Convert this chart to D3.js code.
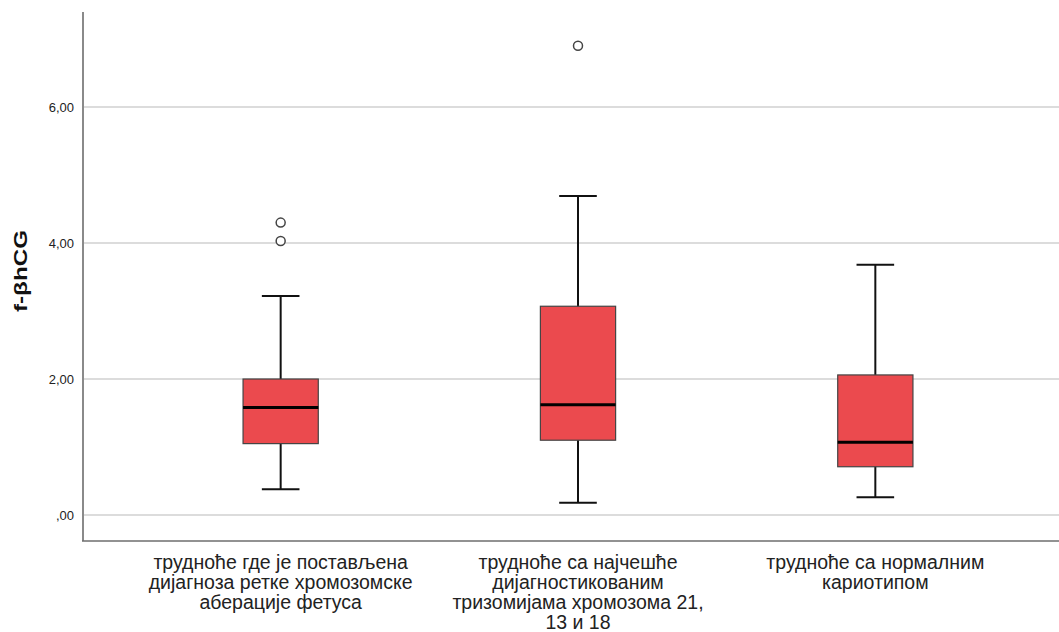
<!DOCTYPE html>
<html>
<head>
<meta charset="utf-8">
<script src="https://cdn.jsdelivr.net/npm/d3@7"></script>
<style>
  body { margin: 0; background: #fff; }
  svg { display: block; font-family: "Liberation Sans", Arial, sans-serif; }
</style>
</head>
<body>
<svg id="chart" width="1059" height="632"></svg>
<script>
// Groups and their box plot statistics
var categories = [
  "трудноће где је постављена дијагноза ретке хромозомске аберације фетуса",
  "трудноће са најчешће дијагностикованим тризомијама хромозома 21, 13 и 18",
  "трудноће са нормалним кариотипом"
];
var labelLines = [
  ["трудноће где је постављена", "дијагноза ретке хромозомске", "аберације фетуса"],
  ["трудноће са најчешће", "дијагностикованим", "тризомијама хромозома 21,", "13 и 18"],
  ["трудноће са нормалним", "кариотипом"]
];
var whiskerLow = [0.38, 0.18, 0.26];
var q1 = [1.05, 1.10, 0.71];
var median = [1.58, 1.62, 1.07];
var q3 = [2.00, 3.07, 2.06];
var whiskerHigh = [3.22, 4.69, 3.68];
var outliers = [[4.03, 4.30], [6.90], []];
var yTicks = [0, 2, 4, 6];

var width = 1059, height = 632;
var plotLeft = 83, plotTop = 12, plotBottom = 541;

var svg = d3.select("#chart");

// Scales
var y = d3.scaleLinear().domain([-0.382, 7.397]).range([plotBottom, plotTop]);
var x = d3.scaleBand().domain(categories).range([132, 1024]);
var boxW = x.bandwidth() * 0.253;
var capW = boxW / 2;

var fmt = function (d) {
  return d === 0 ? ",00" : d3.format(".2f")(d).replace(".", ",");
};

// Grid lines
svg.append("g")
  .selectAll("line")
  .data(yTicks)
  .enter()
  .append("line")
  .attr("x1", plotLeft)
  .attr("x2", width)
  .attr("y1", function (d) { return y(d); })
  .attr("y2", function (d) { return y(d); })
  .attr("stroke", "#d0d0d0")
  .attr("stroke-width", 1.5);

// Y axis
var yAxis = d3.axisLeft(y).tickValues(yTicks).tickFormat(fmt).tickSize(0).tickPadding(9);
var gy = svg.append("g")
  .attr("transform", "translate(" + plotLeft + ",0)")
  .call(yAxis);
gy.select(".domain").remove();
gy.selectAll("text")
  .attr("font-size", 13)
  .attr("fill", "#222")
  .attr("font-family", "Liberation Sans, Arial, sans-serif");

// Axis lines
svg.append("line")
  .attr("x1", plotLeft).attr("x2", plotLeft)
  .attr("y1", plotTop).attr("y2", plotBottom)
  .attr("stroke", "#8a8a8a").attr("stroke-width", 2);
svg.append("line")
  .attr("x1", plotLeft - 1).attr("x2", width)
  .attr("y1", plotBottom).attr("y2", plotBottom)
  .attr("stroke", "#6e6e6e").attr("stroke-width", 1.5);

// Y title
svg.append("text")
  .attr("transform", "translate(27,271) rotate(-90)")
  .attr("text-anchor", "middle")
  .attr("font-size", 18)
  .attr("font-weight", "bold")
  .attr("fill", "#111")
  .attr("textLength", 82)
  .attr("lengthAdjust", "spacingAndGlyphs")
  .text("f-βhCG");

// Boxes
var groups = svg.selectAll(".box")
  .data(categories)
  .enter()
  .append("g")
  .attr("class", "box");

function cx(d) { return x(d) + x.bandwidth() / 2; }

// Whiskers
groups.append("line")
  .attr("x1", cx).attr("x2", cx)
  .attr("y1", function (d, i) { return y(whiskerHigh[i]); })
  .attr("y2", function (d, i) { return y(whiskerLow[i]); })
  .attr("stroke", "#111").attr("stroke-width", 2);

groups.selectAll(".cap")
  .data(function (d, i) { return [{ c: d, v: whiskerLow[i] }, { c: d, v: whiskerHigh[i] }]; })
  .enter()
  .append("line")
  .attr("class", "cap")
  .attr("x1", function (d) { return cx(d.c) - capW / 2; })
  .attr("x2", function (d) { return cx(d.c) + capW / 2; })
  .attr("y1", function (d) { return y(d.v); })
  .attr("y2", function (d) { return y(d.v); })
  .attr("stroke", "#111").attr("stroke-width", 2);

groups.append("rect")
  .attr("x", function (d) { return cx(d) - boxW / 2; })
  .attr("width", boxW)
  .attr("y", function (d, i) { return y(q3[i]); })
  .attr("height", function (d, i) { return y(q1[i]) - y(q3[i]); })
  .attr("fill", "#eb4a4e")
  .attr("stroke", "#444")
  .attr("stroke-width", 1.2);

groups.append("line")
  .attr("x1", function (d) { return cx(d) - boxW / 2; })
  .attr("x2", function (d) { return cx(d) + boxW / 2; })
  .attr("y1", function (d, i) { return y(median[i]); })
  .attr("y2", function (d, i) { return y(median[i]); })
  .attr("stroke", "#000").attr("stroke-width", 3);

// Outliers
groups.selectAll(".outlier")
  .data(function (d, i) { return outliers[i].map(function (v) { return { c: d, v: v }; }); })
  .enter()
  .append("circle")
  .attr("class", "outlier")
  .attr("cx", function (d) { return cx(d.c); })
  .attr("cy", function (d) { return y(d.v); })
  .attr("r", 4.5)
  .attr("fill", "#fff")
  .attr("stroke", "#444")
  .attr("stroke-width", 1.5);

// X labels
groups.append("text")
  .attr("text-anchor", "middle")
  .attr("font-size", 19.5)
  .attr("fill", "#222")
  .selectAll("tspan")
  .data(function (d, i) { return labelLines[i].map(function (t) { return { c: d, t: t }; }); })
  .enter()
  .append("tspan")
  .attr("x", function (d) { return cx(d.c); })
  .attr("y", function (d, j) { return 568.5 + j * 20.3; })
  .text(function (d) { return d.t; });
</script>
</body>
</html>
